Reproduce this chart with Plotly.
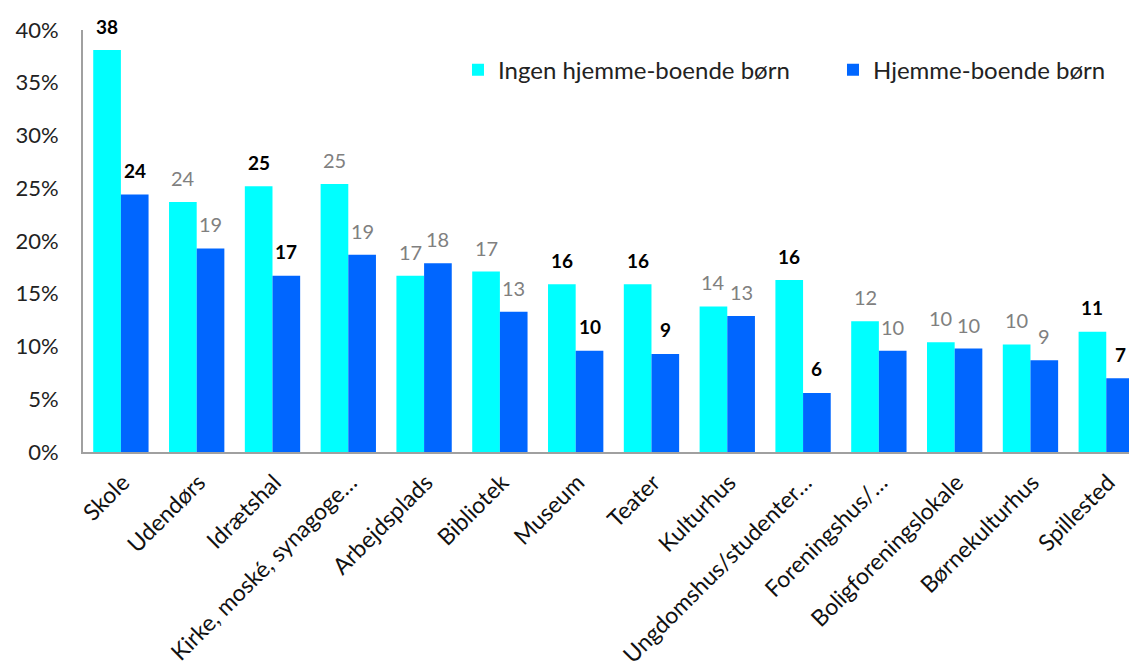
import plotly.graph_objects as go

categories = ["Skole", "Udendørs", "Idrætshal", "Kirke, moské, synagoge…", "Arbejdsplads",
              "Bibliotek", "Museum", "Teater", "Kulturhus", "Ungdomshus/studenter…",
              "Foreningshus/…", "Boligforeningslokale", "Børnekulturhus", "Spillested"]
ingen = [38.1, 23.7, 25.2, 25.4, 16.7, 17.1, 15.9, 15.9, 13.8, 16.3, 12.4, 10.4, 10.2, 11.4]
hjemme = [24.4, 19.3, 16.7, 18.7, 17.9, 13.3, 9.6, 9.3, 12.9, 5.6, 9.6, 9.8, 8.7, 7.0]
bold = [True, False, True, False, False, False, True, True, False, True, False, False, False, True]
yticks = [0, 5, 10, 15, 20, 25, 30, 35, 40]

FONT = "Lato, Carlito, Calibri, sans-serif"
C1 = "#00FFFF"
C2 = "#0066FF"

fig = go.Figure()
fig.add_trace(go.Bar(x=list(range(len(categories))), y=ingen, name="Ingen hjemme-boende børn",
                     marker=dict(color=C1, line=dict(width=0))))
fig.add_trace(go.Bar(x=list(range(len(categories))), y=hjemme, name="Hjemme-boende børn",
                     marker=dict(color=C2, line=dict(width=0))))

bargap = 0.27
half = (1 - bargap) / 4
annotations = []
for i, (a, b, bb) in enumerate(zip(ingen, hjemme, bold)):
    for val, off in ((a, -half), (b, half)):
        txt = f"<b>{round(val)}</b>" if bb else f"{round(val)}"
        annotations.append(dict(
            x=i + off, y=val, xref="x", yref="y", text=txt, showarrow=False,
            yanchor="middle", yshift=24,
            font=dict(family=FONT, size=19 if bb else 20,
                      color="#000000" if bb else "#808080")))

fig.update_layout(
    width=1129, height=665,
    margin=dict(l=83, r=0, t=30, b=213, autoexpand=False),
    paper_bgcolor="white", plot_bgcolor="white",
    barmode="group", bargap=bargap, bargroupgap=0,
    font=dict(family=FONT, size=22, color="#222222"),
    showlegend=True,
    legend=dict(orientation="h", x=0.3585, y=0.905, xanchor="left", yanchor="middle",
                font=dict(family=FONT, size=24, color="#222222"),
                bgcolor="rgba(0,0,0,0)", itemwidth=30, entrywidth=330),
    annotations=annotations,
    xaxis=dict(tickmode="array", tickvals=list(range(len(categories))), ticktext=categories,
               range=[-0.5, 13.3], tickangle=-45, showline=True, linecolor="#A0A0A0",
               linewidth=2, ticks="", showgrid=False, zeroline=False, automargin=False,
               ticklabelstandoff=6, ticklabelshift=2,
               tickfont=dict(family=FONT, size=23, color="#111111")),
    yaxis=dict(range=[0, 40], tickvals=yticks, ticktext=[f"{v}%" for v in yticks],
               showline=True, linecolor="#A0A0A0", linewidth=2, ticks="", showgrid=False,
               zeroline=False, automargin=False, ticklabelstandoff=18,
               tickfont=dict(family=FONT, size=22, color="#222222")),
)

fig.write_html(
    "out.html",
    config={"displayModeBar": False},
    post_script="document.body.style.margin='0';document.body.style.overflow='hidden';",
)
